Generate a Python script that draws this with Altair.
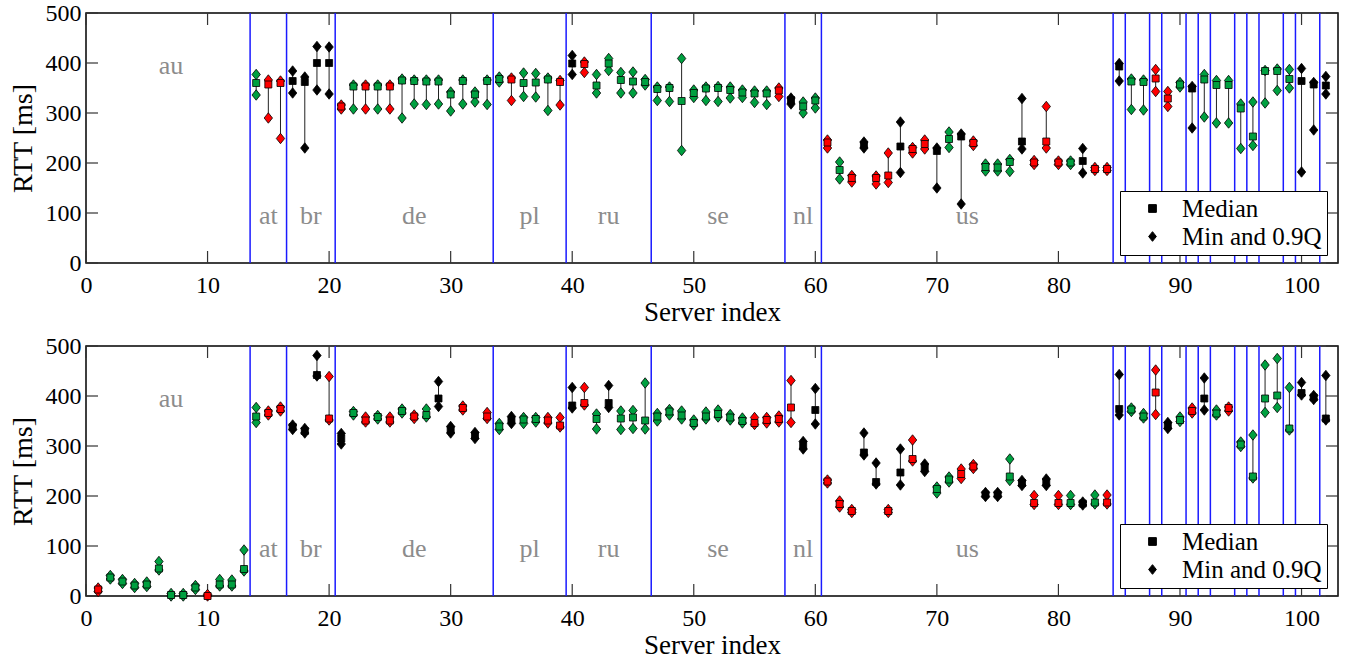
import altair as alt
import pandas as pd

FONT = "Times New Roman, Liberation Serif, Times, serif"
GREEN = "#00a040"
RED = "#ff0000"
BLACK = "#000000"
DIAMOND = "M0,-1.25L1,0L0,1.25L-1,0Z"

# country boundaries (blue lines)
boundaries = [13.5, 16.5, 20.5, 33.5, 39.5, 46.5, 57.5, 60.5, 84.5, 85.5, 87.5,
              88.5, 90.5, 91.5, 92.5, 94.5, 95.5, 96.5, 98.5, 99.5, 101.5]
countries = ["au", "at", "br", "de", "pl", "ru", "se", "nl", "us"]
country_x = [7, 15, 18.5, 27, 36.5, 43, 52, 59, 72.5]
country_y = [395, 95, 95, 95, 95, 95, 95, 95, 95]
x_ticks = [0, 10, 20, 30, 40, 50, 60, 70, 80, 90, 100]
y_ticks = [0, 100, 200, 300, 400, 500]

# ---------------- top panel (servers 14..102) ----------------
top_server = list(range(14, 103))
top_color = ["g", "r", "r", "k", "k", "k", "k", "r", "g", "r",
             "g", "r", "g", "g", "g", "g", "g", "g", "g", "g",
             "g", "r", "g", "g", "g", "r", "k", "r", "g", "g",
             "g", "g", "g", "g", "g", "g", "g", "g", "g", "g",
             "g", "g", "g", "r", "k", "g", "g", "r", "g", "r",
             "k", "r", "r", "k", "r", "r", "k", "g", "k", "r",
             "g", "g", "g", "k", "r", "r", "r", "g", "k", "r",
             "r", "k", "g", "g", "r", "r", "g", "k", "g", "g",
             "g", "g", "g", "g", "g", "g", "k", "k", "k"]
top_min = [336, 290, 249, 340, 230, 346, 338, 308, 308, 308,
           308, 308, 290, 318, 317, 318, 304, 318, 322, 317,
           362, 325, 333, 332, 305, 316, 377, 381, 340, 385,
           340, 340, 356, 325, 323, 225, 331, 325, 323, 330,
           331, 321, 317, 333, 318, 300, 310, 230, 168, 162,
           230, 158, 161, 181, 220, 228, 150, 231, 118, 235,
           184, 184, 183, 228, 197, 230, 197, 197, 180, 185,
           185, 364, 307, 306, 343, 313, 352, 270, 292, 280,
           280, 229, 235, 320, 345, 350, 182, 266, 338]
top_med = [360, 357, 360, 364, 362, 400, 400, 313, 353, 353,
           353, 353, 365, 364, 363, 363, 337, 364, 337, 364,
           368, 367, 360, 361, 367, 362, 399, 398, 355, 399,
           366, 363, 362, 348, 350, 324, 340, 349, 350, 346,
           341, 339, 339, 345, 326, 313, 325, 241, 186, 170,
           236, 170, 175, 233, 228, 238, 224, 248, 253, 240,
           192, 191, 202, 243, 201, 243, 201, 201, 204, 188,
           188, 393, 363, 362, 369, 329, 357, 349, 367, 356,
           356, 309, 253, 384, 384, 368, 364, 357, 355]
top_q90 = [377, 366, 364, 384, 372, 433, 432, 316, 356, 356,
           356, 356, 368, 366, 366, 366, 342, 366, 342, 366,
           372, 370, 380, 379, 370, 365, 415, 402, 377, 409,
           381, 382, 367, 352, 352, 409, 346, 352, 353, 352,
           346, 344, 344, 350, 330, 322, 330, 246, 202, 175,
           242, 174, 220, 282, 231, 246, 230, 262, 258, 244,
           198, 198, 207, 329, 205, 313, 204, 204, 229, 191,
           191, 399, 368, 366, 387, 343, 361, 353, 377, 365,
           365, 318, 322, 385, 388, 387, 389, 361, 373]

# ---------------- bottom panel (servers 1..102) ----------------
bot_server = list(range(1, 103))
bot_color = ["r", "g", "g", "g", "g", "g", "g", "g", "g", "r",
             "g", "g", "g", "g", "r", "r", "k", "k", "k", "r",
             "k", "g", "r", "g", "r", "g", "r", "g", "k", "k",
             "r", "k", "r", "g", "k", "g", "g", "r", "r", "k",
             "r", "g", "k", "g", "g", "g", "g", "g", "g", "g",
             "g", "g", "g", "g", "r", "r", "r", "r", "k", "k",
             "r", "r", "r", "k", "k", "r", "k", "r", "k", "g",
             "g", "r", "r", "k", "k", "g", "k", "r", "k", "r",
             "g", "k", "g", "r", "k", "g", "g", "r", "k", "g",
             "r", "k", "g", "r", "g", "g", "g", "g", "g", "k",
             "k", "k"]
bot_min = [9, 34, 25, 17, 19, 52, 0, 0, 13, 0,
           20, 20, 50, 347, 362, 370, 333, 326, 440, 352,
           304, 362, 348, 354, 348, 366, 355, 358, 379, 326,
           372, 315, 355, 333, 345, 345, 348, 346, 338, 376,
           382, 334, 377, 333, 335, 334, 350, 362, 354, 342,
           354, 358, 352, 346, 343, 346, 348, 347, 294, 344,
           226, 178, 167, 282, 224, 167, 222, 270, 249, 206,
           228, 235, 255, 199, 199, 231, 221, 183, 221, 183,
           183, 182, 184, 184, 362, 369, 356, 363, 335, 349,
           366, 372, 362, 370, 299, 236, 367, 377, 332, 402,
           393, 352]
bot_med = [13, 37, 29, 21, 23, 55, 2, 2, 17, 0,
           23, 23, 54, 359, 366, 374, 338, 330, 442, 355,
           315, 366, 351, 358, 351, 370, 359, 362, 395, 333,
           376, 321, 359, 339, 352, 353, 354, 351, 341, 381,
           386, 354, 386, 355, 357, 351, 359, 369, 361, 346,
           359, 364, 357, 350, 346, 352, 354, 377, 300, 372,
           229, 184, 170, 287, 228, 170, 247, 274, 256, 214,
           233, 244, 259, 203, 203, 239, 226, 186, 227, 186,
           186, 185, 187, 187, 374, 373, 359, 407, 341, 352,
           370, 395, 365, 376, 303, 239, 395, 401, 335, 406,
           397, 355]
bot_q90 = [16, 41, 33, 25, 28, 69, 5, 5, 21, 3,
           33, 32, 92, 377, 370, 378, 342, 335, 481, 439,
           325, 369, 358, 361, 358, 374, 362, 374, 429, 339,
           380, 327, 367, 345, 359, 357, 357, 357, 357, 417,
           417, 364, 421, 370, 371, 426, 365, 373, 370, 352,
           368, 372, 363, 356, 357, 357, 360, 431, 309, 415,
           232, 190, 173, 326, 266, 173, 294, 312, 264, 218,
           238, 254, 263, 207, 207, 274, 231, 201, 234, 201,
           201, 188, 202, 202, 443, 376, 365, 452, 347, 358,
           376, 436, 372, 378, 308, 322, 462, 475, 417, 427,
           401, 441]

W, H = 1252, 250


def panel(servers, cols, mins, meds, q90s):
    xs = alt.Scale(domain=[0, 103], nice=False, zero=False)
    ys = alt.Scale(domain=[0, 500], nice=False, zero=False)
    xaxis = alt.Axis(values=x_ticks, ticks=False, domain=False, grid=False,
                     labelFont=FONT, labelFontSize=24, labelColor="black",
                     labelPadding=10, labelFlush=False,
                     titleFont=FONT, titleFontSize=27, titleFontWeight="normal",
                     titleColor="black", titlePadding=2)
    yaxis = alt.Axis(values=y_ticks, ticks=False, domain=False, grid=False,
                     labelFont=FONT, labelFontSize=24, labelColor="black",
                     labelPadding=5, labelFlush=False,
                     titleFont=FONT, titleFontSize=28, titleFontWeight="normal",
                     titleColor="black", titlePadding=8)

    def X(f):
        return alt.X(f, scale=xs, axis=xaxis, title="Server index")

    def Y(f):
        return alt.Y(f, scale=ys, axis=yaxis, title="RTT [ms]")

    df = pd.DataFrame({"server": servers, "col": cols, "mn": mins,
                       "med": meds, "q90": q90s})
    pts = pd.concat([
        pd.DataFrame({"server": servers, "col": cols, "val": mins}),
        pd.DataFrame({"server": servers, "col": cols, "val": q90s}),
    ])
    pts["kind"] = "Min and 0.9Q"
    med = pd.DataFrame({"server": servers, "col": cols, "val": meds})
    med["kind"] = "Median"

    fill = alt.Fill("col:N", scale=alt.Scale(domain=["g", "r", "k"],
                                             range=[GREEN, RED, BLACK]),
                    legend=None)
    legend = alt.Legend(orient="none", legendX=1034, legendY=178, title=None,
                        labelFont=FONT, labelFontSize=25, labelColor="black",
                        symbolFillColor="black", symbolStrokeColor="black",
                        symbolSize=60, symbolStrokeWidth=1,
                        strokeColor="black", fillColor="white", padding=5,
                        symbolOffset=15, labelOffset=17, rowPadding=2)
    shape = alt.Shape("kind:N", scale=alt.Scale(domain=["Median", "Min and 0.9Q"],
                                                range=["square", DIAMOND]),
                      legend=legend)

    vlines = alt.Chart(pd.DataFrame({"b": boundaries})).mark_rule(
        color="#1a1aff", strokeWidth=1.5).encode(x=X("b:Q"))
    labels = alt.Chart(pd.DataFrame({"cx": country_x, "cy": country_y,
                                     "name": countries})).mark_text(
        font=FONT, fontSize=26, color="#8c8c8c").encode(
        x=X("cx:Q"), y=Y("cy:Q"), text="name:N")
    whisk = alt.Chart(df).mark_rule(color="#222222", strokeWidth=1).encode(
        x=X("server:Q"), y=Y("mn:Q"), y2="q90:Q")
    diam = alt.Chart(pts).mark_point(filled=True, stroke="black",
                                     strokeWidth=0.8, opacity=1, size=70).encode(
        x=X("server:Q"), y=Y("val:Q"), fill=fill, shape=shape)
    sq = alt.Chart(med).mark_point(filled=True, stroke="black",
                                   strokeWidth=0.8, opacity=1, size=49).encode(
        x=X("server:Q"), y=Y("val:Q"), fill=fill, shape=shape)

    xt = pd.DataFrame({"t": x_ticks})
    yt = pd.DataFrame({"t": y_ticks})
    tcol = "#333333"
    xt_bot = alt.Chart(xt).mark_rule(color=tcol, strokeWidth=1.2).encode(
        x=X("t:Q"), y=alt.value(H), y2=alt.value(H - 12))
    xt_top = alt.Chart(xt).mark_rule(color=tcol, strokeWidth=1.2).encode(
        x=X("t:Q"), y=alt.value(0), y2=alt.value(12))
    yt_left = alt.Chart(yt).mark_rule(color=tcol, strokeWidth=1.2).encode(
        y=Y("t:Q"), x=alt.value(0), x2=alt.value(12))
    yt_right = alt.Chart(yt).mark_rule(color=tcol, strokeWidth=1.2).encode(
        y=Y("t:Q"), x=alt.value(W - 12), x2=alt.value(W))

    return alt.layer(xt_bot, xt_top, yt_left, yt_right, vlines, labels,
                     whisk, diam, sq).properties(width=W, height=H)


top = panel(top_server, top_color, top_min, top_med, top_q90)
bottom = panel(bot_server, bot_color, bot_min, bot_med, bot_q90)

chart = alt.vconcat(top, bottom, spacing=7).resolve_scale(
    shape="independent", fill="independent").resolve_legend(
    shape="independent").properties(
    padding={"left": 8, "top": 0, "right": 5, "bottom": 0},
    background="white").configure_view(stroke="black", strokeWidth=1.5)

chart.save("out.html", embed_options={"renderer": "svg", "actions": False})
